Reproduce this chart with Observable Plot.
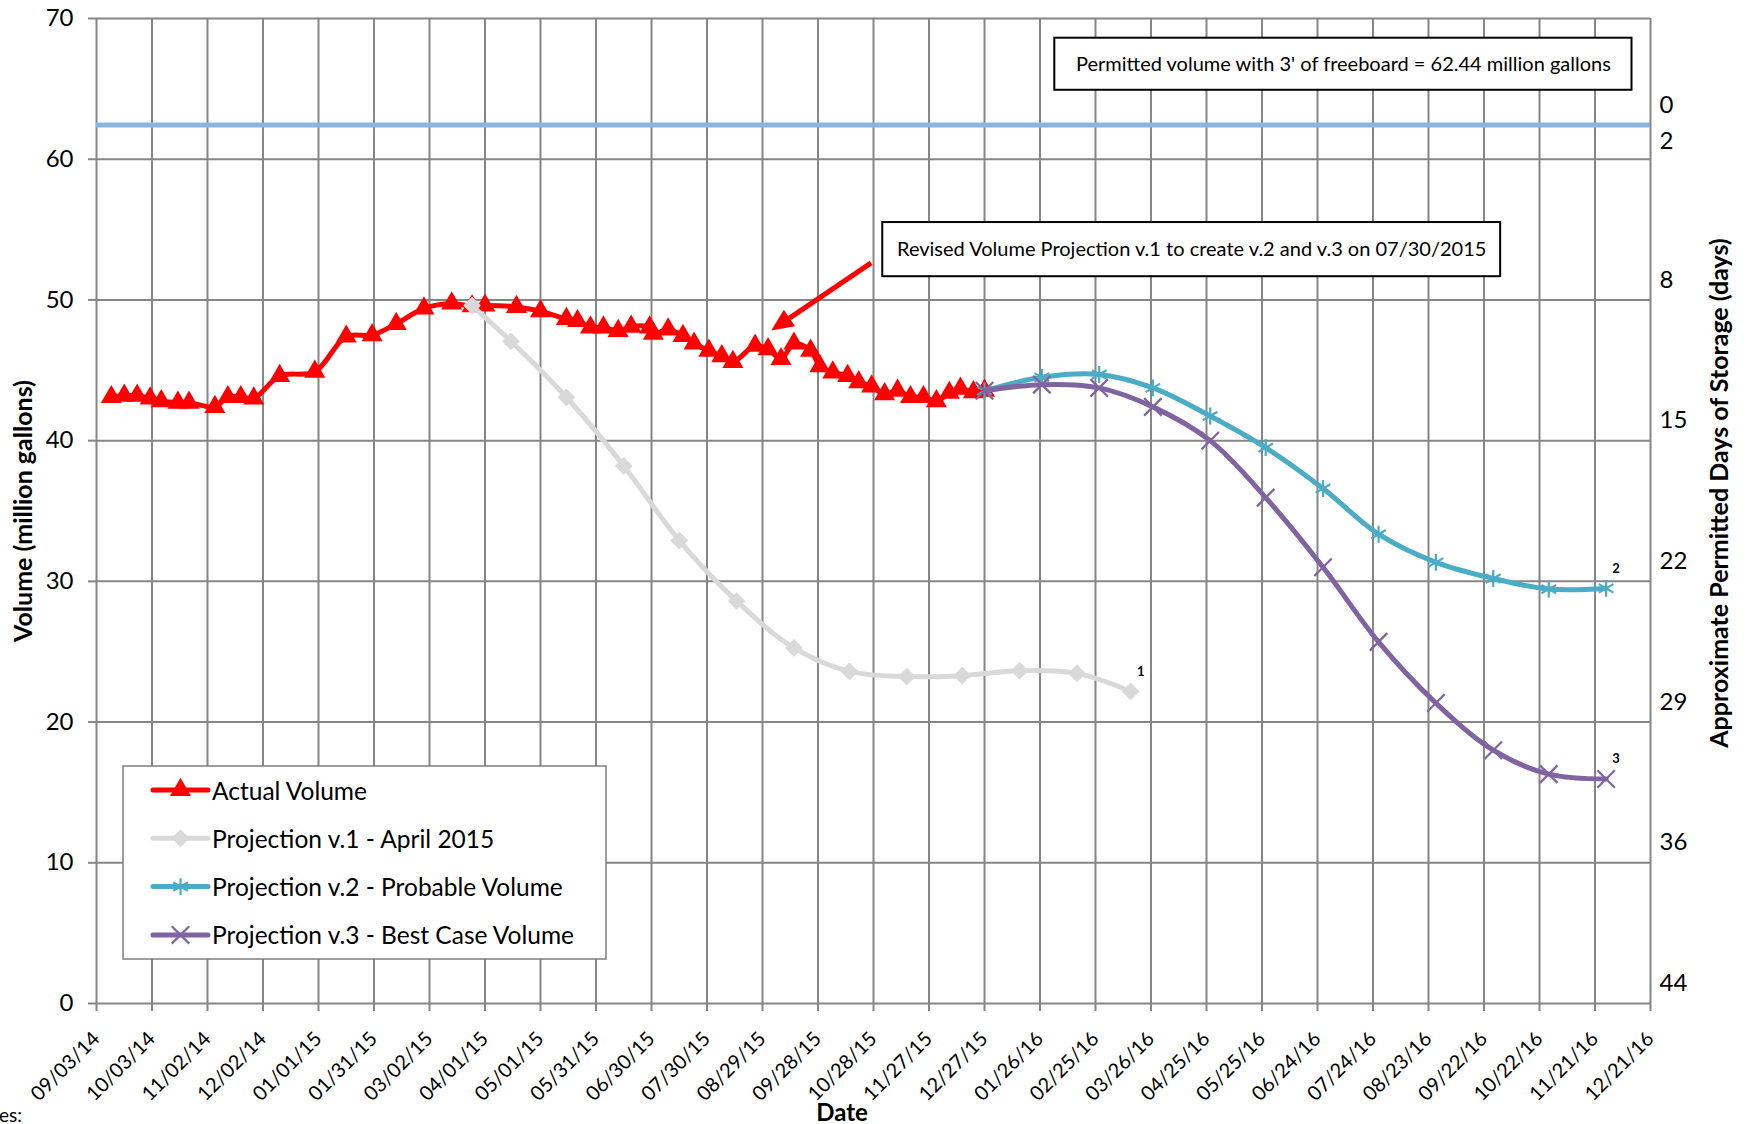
<!DOCTYPE html>
<html><head><meta charset="utf-8">
<script src="https://cdn.jsdelivr.net/npm/d3@7"></script>
<script src="https://cdn.jsdelivr.net/npm/@observablehq/plot@0.6"></script>
<style>
body{margin:0;background:#fff;}
#chart svg{display:block;background:#fff;}
</style></head><body><div id="chart"></div>
<script>
// ---------- data ----------
const xTickLabels = ["09/03/14","10/03/14","11/02/14","12/02/14","01/01/15","01/31/15","03/02/15","04/01/15","05/01/15","05/31/15","06/30/15","07/30/15","08/29/15","09/28/15","10/28/15","11/27/15","12/27/15","01/26/16","02/25/16","03/26/16","04/25/16","05/25/16","06/24/16","07/24/16","08/23/16","09/22/16","10/22/16","11/21/16","12/21/16"];
const yTicks = [0,10,20,30,40,50,60,70];
const rightTickVolumes = [50,40,30,20,10,0];
const rightTickLabels = ["8","15","22","29","36","44"];
const permitLabelAbove = "0";
const permitLabelBelow = "2";
const permitVolume = 62.44;

const actualDates = ["2014-09-11","2014-09-18","2014-09-25","2014-10-02","2014-10-08","2014-10-17","2014-10-23","2014-11-06","2014-11-13","2014-11-20","2014-11-27","2014-12-11","2014-12-30","2015-01-16","2015-01-30","2015-02-12","2015-02-27","2015-03-14","2015-03-25","2015-04-01","2015-04-18","2015-05-01","2015-05-15","2015-05-21","2015-05-28","2015-06-04","2015-06-12","2015-06-19","2015-06-29","2015-07-01","2015-07-09","2015-07-17","2015-07-23","2015-07-31","2015-08-07","2015-08-13","2015-08-25","2015-09-01","2015-09-08","2015-09-15","2015-09-24","2015-09-29","2015-10-06","2015-10-14","2015-10-20","2015-10-27","2015-11-03","2015-11-10","2015-11-17","2015-11-24","2015-12-01","2015-12-08","2015-12-14","2015-12-21","2015-12-27"];
const actualVolume = [43.1,43.2,43.2,43.0,42.8,42.7,42.7,42.4,43.1,43.1,43.0,44.6,44.9,47.4,47.5,48.3,49.4,49.75,49.55,49.6,49.5,49.2,48.65,48.5,48.05,48.05,47.8,48.1,48.05,47.6,47.9,47.45,46.9,46.4,46.0,45.6,46.75,46.5,45.8,46.9,46.4,45.3,44.85,44.6,44.15,43.85,43.3,43.55,43.1,43.1,42.8,43.4,43.7,43.45,43.55];

const v1Dates = ["2015-03-25","2015-04-15","2015-05-15","2015-06-15","2015-07-15","2015-08-15","2015-09-15","2015-10-15","2015-11-15","2015-12-15","2016-01-15","2016-02-15","2016-03-15"];
const v1Volume = [49.6,47.06,43.08,38.2,32.9,28.6,25.27,23.6,23.23,23.3,23.65,23.46,22.18];

const projDates = ["2015-12-27","2016-01-27","2016-02-27","2016-03-27","2016-04-27","2016-05-27","2016-06-27","2016-07-27","2016-08-27","2016-09-27","2016-10-27","2016-11-27"];
const v2Volume = [43.55,44.5,44.7,43.75,41.75,39.5,36.6,33.35,31.35,30.2,29.45,29.5];
const v3Volume = [43.55,43.98,43.75,42.4,40.0,35.95,31.0,25.7,21.35,18.0,16.3,15.95];

const seriesNames = ["Actual Volume","Projection v.1 - April 2015","Projection v.2 - Probable Volume","Projection v.3 - Best Case Volume"];
const seriesColors = ["#ff0000","#d9d9d9","#4bacc6","#8064a2"];
const seriesSymbols = ["triangle","diamond2","asterisk","times"];
const endLabels = ["1","2","3"];

const note1 = "Permitted volume with 3' of freeboard = 62.44 million gallons";
const note2 = "Revised Volume Projection v.1 to create v.2 and v.3 on 07/30/2015";
// annotation anchors in data units (date, volume)
const note1Box = {x1:"2016-02-03", x2:"2016-12-11", y1:64.9, y2:68.6};
const note2Box = {x1:"2015-11-02", x2:"2016-10-01", y1:51.65, y2:55.5};
const arrowTail = {x:"2015-10-27", y:52.6};
const arrowHead = {x:"2015-09-03", y:47.8};

// ---------- build ----------
const parse = d3.utcParse("%Y-%m-%d");
const parseTick = d3.utcParse("%m/%d/%y");
const tickDates = xTickLabels.map(parseTick);
const xStart = tickDates[0], xEnd = tickDates[tickDates.length-1];
const actual = actualDates.map((d,i)=>({date:parse(d), v:actualVolume[i]}));
const v1 = v1Dates.map((d,i)=>({date:parse(d), v:v1Volume[i]}));
const v2 = projDates.map((d,i)=>({date:parse(d), v:v2Volume[i]}));
const v3 = projDates.map((d,i)=>({date:parse(d), v:v3Volume[i]}));
const series = [actual, v1, v2, v3];

const FONT = "Lato, 'Open Sans', sans-serif";
const GRID = "#868686";
const symR = {triangle:7.8, diamond2:8, asterisk:8, times:8};

const lineOpts = (c)=>({x:"date", y:"v", stroke:c, strokeWidth:5, curve:"catmull-rom", strokeLinejoin:"round", strokeLinecap:"round"});
const dotOpts = (i)=>{
  const s = seriesSymbols[i], c = seriesColors[i];
  if (s === "asterisk" || s === "times") return {x:"date", y:"v", symbol:s, stroke:c, strokeWidth:2.2, r:symR[s]};
  return {x:"date", y:"v", symbol:s, fill:c, r:symR[s]};
};

const marks = [
  Plot.gridX({ticks:tickDates, stroke:GRID, strokeOpacity:1, strokeWidth:2}),
  Plot.gridY({ticks:yTicks, stroke:GRID, strokeOpacity:1, strokeWidth:2}),
  Plot.axisY({ticks:yTicks, tickSize:8, tickPadding:15, fontSize:24, stroke:GRID, strokeWidth:2, label:null}),
  Plot.axisX({ticks:tickDates, tickFormat:d3.utcFormat("%m/%d/%y"), tickRotate:-45, tickSize:8, tickPadding:24, fontSize:20, stroke:GRID, strokeWidth:2, label:null}),
  Plot.text(rightTickVolumes, {x:()=>xEnd, y:d=>d, text:(d,i)=>rightTickLabels[i], dx:9, dy:-20, textAnchor:"start", fontSize:24}),
  Plot.text([permitVolume], {x:()=>xEnd, y:d=>d, text:()=>permitLabelAbove, dx:9, dy:-20, textAnchor:"start", fontSize:24}),
  Plot.text([permitVolume], {x:()=>xEnd, y:d=>d, text:()=>permitLabelBelow, dx:9, dy:16, textAnchor:"start", fontSize:24}),
  Plot.ruleY([permitVolume], {x1:xStart, x2:xEnd, stroke:"#8db3e2", strokeWidth:5}),
];
series.forEach((s,i)=>{
  marks.push(Plot.line(s, lineOpts(seriesColors[i])));
  marks.push(Plot.dot(s, dotOpts(i)));
});
[v1, v2, v3].forEach((s,i)=>{
  marks.push(Plot.text([s[s.length-1]], {x:"date", y:"v", text:()=>endLabels[i], dx:10, dy:-20, fontSize:13, fontWeight:"bold"}));
});
// annotation boxes
[[note1Box, note1],[note2Box, note2]].forEach(([b,t])=>{
  marks.push(Plot.rect([b], {x1:d=>parse(d.x1), x2:d=>parse(d.x2), y1:"y1", y2:"y2", fill:"#fff", stroke:"#000", strokeWidth:2}));
  marks.push(Plot.text([b], {x:d=>new Date((+parse(d.x1)+ +parse(d.x2))/2), y:d=>(d.y1+d.y2)/2, text:()=>t, fontSize:20}));
});

const plot = Plot.plot({
  width:1750, height:1124,
  marginLeft:96, marginRight:100, marginTop:18, marginBottom:121,
  style:{fontFamily:FONT, background:"#fff", color:"#000", overflow:"visible"},
  x:{type:"utc", domain:[xStart, xEnd]},
  y:{domain:[0,70]},
  marks
});
document.getElementById("chart").append(plot);

const svg = d3.select(plot);
const xs = plot.scale("x"), ys = plot.scale("y");
const X = d=>xs.apply(parse(d)), Y = v=>ys.apply(v);

// arrow
{
  const x1 = X(arrowTail.x), y1 = Y(arrowTail.y), x2 = X(arrowHead.x), y2 = Y(arrowHead.y);
  const ang = Math.atan2(y2-y1, x2-x1), L = 22, W = 10;
  const bx = x2 - L*Math.cos(ang), by = y2 - L*Math.sin(ang);
  const g = svg.append("g");
  g.append("line").attr("x1",x1).attr("y1",y1).attr("x2",bx).attr("y2",by).attr("stroke","#ff0000").attr("stroke-width",5);
  g.append("path").attr("d",`M${x2},${y2}L${bx - W*Math.sin(ang)},${by + W*Math.cos(ang)}L${bx + W*Math.sin(ang)},${by - W*Math.cos(ang)}Z`).attr("fill","#ff0000");
}

// titles
const T = (txt, x, y, opts={})=>{
  const t = svg.append("text").attr("x",x).attr("y",y).text(txt)
    .attr("font-family",FONT).attr("font-size",opts.size||24).attr("font-weight",opts.weight||"bold")
    .attr("text-anchor",opts.anchor||"middle").attr("dominant-baseline","central").attr("fill","#000");
  if (opts.rotate) t.attr("transform",`rotate(${opts.rotate},${x},${y})`);
  return t;
};
T("Volume (million gallons)", 22, 511, {rotate:-90, size:25});
T("Approximate Permitted Days of Storage (days)", 1718, 493, {rotate:-90, size:25});
T("Date", 842, 1111, {size:24});
T("Notes:", 22, 1114, {anchor:"end", weight:"normal", size:19});

// legend
{
  const g = svg.append("g");
  g.append("rect").attr("x",123).attr("y",766).attr("width",483).attr("height",193).attr("fill","#fff").attr("stroke","#7f7f7f").attr("stroke-width",1.5);
  seriesNames.forEach((n,i)=>{
    const y = 790 + i*48.3, c = seriesColors[i];
    g.append("line").attr("x1",153).attr("x2",208).attr("y1",y).attr("y2",y).attr("stroke",c).attr("stroke-width",5).attr("stroke-linecap","round");
    const s = seriesSymbols[i];
    const sym = {triangle:d3.symbolTriangle, diamond2:d3.symbolDiamond2, asterisk:d3.symbolAsterisk, times:d3.symbolTimes}[s];
    const r = symR[s];
    const p = g.append("path").attr("d", d3.symbol(sym, Math.PI*r*r)()).attr("transform",`translate(180.5,${y})`);
    if (s==="asterisk"||s==="times") p.attr("fill","none").attr("stroke",c).attr("stroke-width",2.2);
    else p.attr("fill",c);
    g.append("text").attr("x",212).attr("y",y).text(n).attr("font-family",FONT).attr("font-size",24.5)
      .attr("text-anchor","start").attr("dominant-baseline","central").attr("fill","#000");
  });
}
</script></body></html>
